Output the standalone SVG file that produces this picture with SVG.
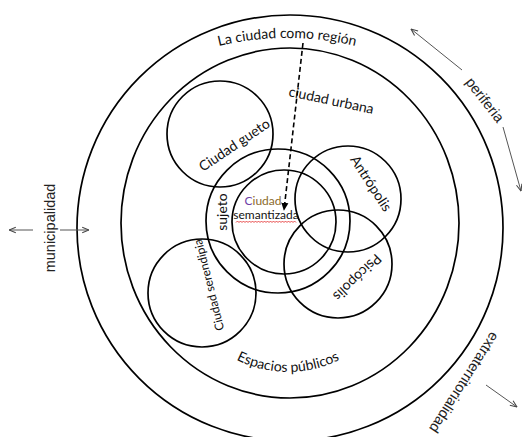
<svg xmlns="http://www.w3.org/2000/svg" width="522" height="437" viewBox="0 0 522 437">
<style>
.c{fill:none;stroke:#000;stroke-width:1.7}
.t{font-family:Lato,"Open Sans",sans-serif;font-size:14px;fill:#111}
.s{font-size:12px}
.o{font-family:"Liberation Sans",Arial,sans-serif;font-size:14.5px;fill:#222}
.a{stroke:#555;stroke-width:1;fill:none;marker-end:url(#ah)}
</style>
<defs>
<marker id="ah" viewBox="0 0 10 10" refX="9.5" refY="5" markerWidth="8" markerHeight="8" orient="auto" markerUnits="userSpaceOnUse">
<path d="M1,1.5 L9.5,5 L1,8.5" fill="none" stroke="#444" stroke-width="1.3"/>
</marker>
<marker id="dh" viewBox="0 0 10 10" refX="9" refY="5" markerWidth="8" markerHeight="8" orient="auto" markerUnits="userSpaceOnUse">
<path d="M0,0.5 L10,5 L0,9.5 Z" fill="#000"/>
</marker>
<path id="arcTop" d="M -5 330 A 292 292 0 0 1 579 330"/>
<path id="arcBot" d="M 173 257 A 115 115 0 0 0 403 257"/>
</defs>

<g id="region">
<circle class="c" cx="290" cy="228" r="213"/>
<text class="t" font-size="14"><textPath href="#arcTop" startOffset="50%" text-anchor="middle">La ciudad como región</textPath></text>
</g>

<g id="urbana">
<ellipse class="c" cx="290" cy="223" rx="169" ry="175"/>
<text class="t" transform="translate(288,96) rotate(12)">ciudad urbana</text>
</g>

<g id="espacios">
<text class="t"><textPath href="#arcBot" startOffset="50%" text-anchor="middle">Espacios públicos</textPath></text>
</g>

<g id="gueto">
<circle class="c" cx="220" cy="134" r="53"/>
<text class="t" transform="translate(203,172) rotate(-34)">Ciudad gueto</text>
</g>

<g id="sujeto">
<circle class="c" cx="278" cy="221" r="72"/>
<text class="t" text-anchor="middle" transform="translate(227,212) rotate(-90)">sujeto</text>
</g>

<g id="antropolis">
<circle class="c" cx="348" cy="199" r="53"/>
<text class="t" text-anchor="middle" transform="translate(367,186) rotate(57)">Antrópolis</text>
</g>

<g id="psicopolis">
<circle class="c" cx="338" cy="264" r="54"/>
<text class="t" text-anchor="middle" transform="translate(354,274) rotate(136)">Psicópolis</text>
</g>

<g id="serendipia">
<circle class="c" cx="202" cy="293" r="54"/>
<text class="t s" text-anchor="middle" transform="translate(213,284) rotate(-104)">Ciudad serendipia</text>
</g>

<g id="semantizada">
<circle class="c" cx="284" cy="222" r="52"/>
<text class="t s" text-anchor="middle" x="263" y="205"><tspan fill="#6f3fa8">C</tspan><tspan fill="#8b6a2b">iudad</tspan></text>
<text class="t s" text-anchor="middle" x="266" y="219" fill="#3a2a4a">semantizada</text>
<path d="M236,222.5 l1.5,-1.5 l1.5,1.5 l1.5,-1.5 l1.5,1.5 l1.5,-1.5 l1.5,1.5 l1.5,-1.5 l1.5,1.5 l1.5,-1.5 l1.5,1.5 l1.5,-1.5 l1.5,1.5 l1.5,-1.5 l1.5,1.5 l1.5,-1.5 l1.5,1.5 l1.5,-1.5 l1.5,1.5 l1.5,-1.5 l1.5,1.5 l1.5,-1.5 l1.5,1.5 l1.5,-1.5 l1.5,1.5 l1.5,-1.5 l1.5,1.5 l1.5,-1.5 l1.5,1.5 l1.5,-1.5 l1.5,1.5 l1.5,-1.5 l1.5,1.5 l1.5,-1.5 l1.5,1.5 l1.5,-1.5 l1.5,1.5 l1.5,-1.5 l1.5,1.5 l1.5,-1.5 l1.5,1.5" fill="none" stroke="#e02020" stroke-width="0.8"/>
</g>

<g id="municipalidad">
<text class="o" text-anchor="middle" transform="translate(55,228) rotate(-90)">municipalidad</text>
</g>
<g id="periferia">
<text class="o" text-anchor="middle" transform="translate(481,103) rotate(52)">periferia</text>
</g>
<g id="extraterritorialidad">
<text class="o" text-anchor="middle" transform="translate(460,380) rotate(122.6)">extraterritorialidad</text>
</g>

<g id="connectors">
<path d="M303,43 L284,210" fill="none" stroke="#000" stroke-width="1.6" stroke-dasharray="5,3" marker-end="url(#dh)"/>
<path class="a" d="M33,230 L9,230"/>
<path class="a" d="M60,230 L89,230"/>
<path class="a" d="M462,70 L411,29"/>
<path class="a" d="M503,127 L521,191"/>
<path class="a" d="M486,385 L517,407"/>
</g>
</svg>
